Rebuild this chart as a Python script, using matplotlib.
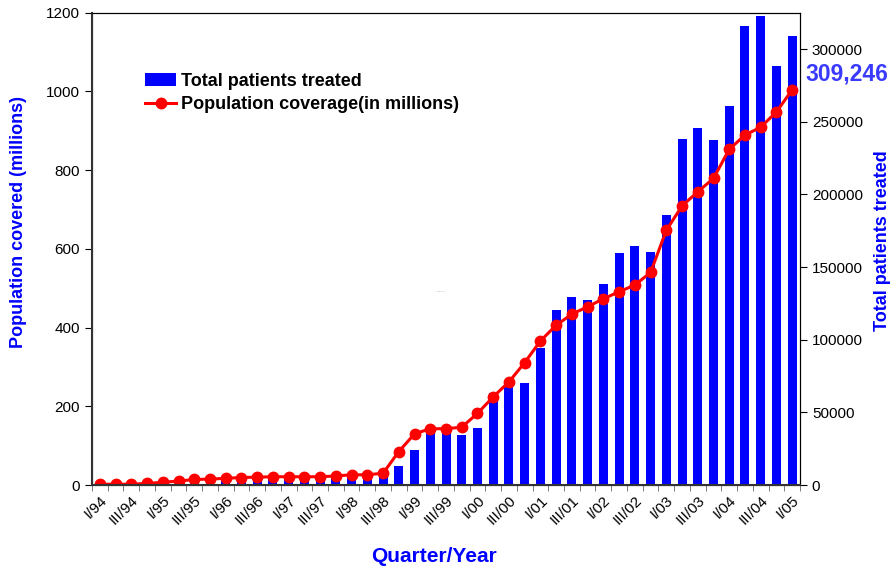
import matplotlib.pyplot as plt
import numpy as np

plt.rcParams['font.family'] = ['Liberation Sans', 'DejaVu Sans']

# quarters I/94 .. I/05
years = ["94", "95", "96", "97", "98", "99", "00", "01", "02", "03", "04", "05"]
romans = ["I", "II", "III", "IV"]
quarters = [r + "/" + y for y in years for r in romans][:45]

# total patients treated (right axis)
patients = [0, 0, 0, 0, 300, 1000, 1600, 2300, 3400, 4100,
            5000, 5000, 5000, 5000, 5000, 5300, 5700, 6200, 7400, 13000,
            24000, 37800, 37800, 34400, 39400, 63200, 70000, 70000, 94300, 120300,
            129300, 127100, 138100, 159500, 164300, 160200, 185600, 237800, 245400, 237100,
            260500, 315500, 323000, 288000, 309246]

# population coverage in millions (left axis)
coverage = [2, 2, 2, 4, 7, 10, 14, 15, 17, 19,
            20, 21, 21, 21, 21, 23, 26, 26, 30, 85,
            130, 143, 143, 147, 182, 224, 262, 311, 366, 406,
            434, 453, 473, 491, 508, 540, 647, 709, 745, 779,
            853, 889, 909, 948, 1004]

x = np.arange(len(quarters))
blue = "#0000FF"

fig = plt.figure(figsize=(8.95, 5.71), dpi=100)
ax = fig.add_axes([0.1028, 0.1506, 0.7911, 0.8272])
ax2 = ax.twinx()

bars = ax2.bar(x, patients, width=0.57, color=blue, label="Total patients treated")
line, = ax.plot(x, coverage, color="#FF0000", lw=2.2, marker="o", markersize=7.5,
                label="Population coverage(in millions)")

# line above bars
ax.set_zorder(ax2.get_zorder() + 1)
ax.patch.set_visible(False)

ax.set_xlim(-0.5, len(quarters) - 0.5)
ax.set_ylim(0, 1200)
ax2.set_ylim(0, 325000)
ax.set_yticks(range(0, 1201, 200))
ax2.set_yticks(range(0, 300001, 50000))

ax.set_xticks(x[::2])
ax.set_xticklabels(quarters[::2], rotation=45, ha="right", va="top", fontsize=11,
                   rotation_mode="anchor")
ax.set_xticks(np.arange(-0.5, len(quarters), 1), minor=True)
ax.tick_params(axis="x", which="major", length=0, pad=6)
ax.tick_params(axis="x", which="minor", length=4, color="#666666", direction="out")
ax.tick_params(axis="y", labelsize=11, length=5, direction="out")
ax2.tick_params(axis="y", labelsize=11, length=5, direction="out")

for a in (ax, ax2):
    for s in a.spines.values():
        s.set_linewidth(0.8)
ax.spines["left"].set_linewidth(1.5)
ax.spines["left"].set_color("#333333")
ax.spines["bottom"].set_linewidth(1.5)
ax.spines["bottom"].set_color("#333333")

ax.set_ylabel("Population covered (millions)", color=blue, fontsize=13, fontweight="bold")
ax.yaxis.set_label_coords(-0.092, 0.557)
ax2.set_ylabel("Total patients treated", color=blue, fontsize=13, fontweight="bold")
ax2.yaxis.set_label_coords(1.104, 0.517)
ax.set_xlabel("Quarter/Year", color=blue, fontsize=15, fontweight="bold")
ax.xaxis.set_label_coords(0.483, -0.131)

ax.legend([bars, line], [bars.get_label(), line.get_label()], loc="upper left",
          bbox_to_anchor=(0.065, 0.888), frameon=False, prop={"size": 13, "weight": "bold"},
          handlelength=1.7, handletextpad=0.3, borderaxespad=0, labelspacing=0.35)

fig.text(0.9, 0.87, "309,246", color="#3A3AFF", fontsize=16.5, fontweight="bold",
         ha="left", va="center")
ax.text(21.7, 490, "......", color="#999999", fontsize=4, ha="center")

fig.savefig("out.png", dpi=100)
